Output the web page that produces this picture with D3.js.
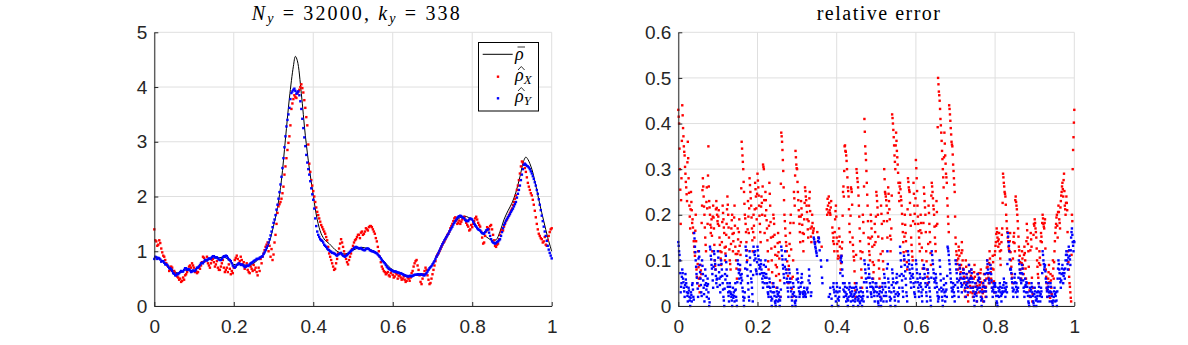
<!DOCTYPE html>
<html>
<head>
<meta charset="utf-8">
<script src="https://cdn.jsdelivr.net/npm/d3@7/dist/d3.min.js"></script>
<style>
body { margin: 0; background: #fff; }
svg { display: block; }
.tick text { font-family: "Liberation Sans", Arial, sans-serif; font-size: 19px; fill: #262626; }
.serif { font-family: "Liberation Serif", "DejaVu Serif", "Times New Roman", Tinos, "Nimbus Roman", "Noto Serif", FreeSerif, Times, serif; fill: #000; }
</style>
</head>
<body>
<svg width="1188" height="345"></svg>
<script>
'use strict';

var xTicks = [0, 0.2, 0.4, 0.6, 0.8, 1];
var rhoTicks = [0, 1, 2, 3, 4, 5];
var errTicks = [0, 0.1, 0.2, 0.3, 0.4, 0.5, 0.6];

// exact density (black line)
var barX = [0,0.02,0.04,0.06,0.08,0.10,0.12,0.14,0.16,0.18,0.20,0.22,0.24,0.26,0.28,0.29,
	0.30,0.31,0.32,0.33,0.34,0.35,0.355,0.36,0.37,0.38,0.39,0.40,0.41,0.42,0.43,0.44,0.46,
	0.48,0.50,0.52,0.54,0.56,0.58,0.60,0.62,0.64,0.66,0.68,0.70,0.72,0.74,0.76,0.78,0.80,
	0.82,0.84,0.85,0.86,0.87,0.88,0.89,0.90,0.91,0.92,0.93,0.935,0.94,0.95,0.96,0.97,0.98,0.99,1.0];
var barRho = [0.90,0.83,0.70,0.60,0.66,0.65,0.78,0.86,0.88,0.88,0.76,0.76,0.74,0.84,1.00,1.18,
	1.46,1.80,2.30,3.05,3.80,4.38,4.56,4.48,3.88,3.12,2.52,2.02,1.58,1.32,1.20,1.14,1.00,
	0.95,1.02,1.07,1.04,0.97,0.80,0.66,0.60,0.55,0.56,0.58,0.76,1.05,1.32,1.56,1.64,1.57,
	1.36,1.24,1.20,1.21,1.36,1.58,1.74,1.88,2.08,2.36,2.66,2.72,2.68,2.50,2.20,1.86,1.55,1.25,1.00];

// estimates, grid x = i*0.005 and offset grid x = 0.0025 + i*0.005
var hatStep = 0.005;
var hatX = [
	1.40,1.18,1.12,1.15,0.98,0.90,0.78,0.72,0.66,0.70,
	0.64,0.58,0.52,0.50,0.46,0.48,0.58,0.66,0.74,0.78,
	0.70,0.64,0.62,0.68,0.80,0.88,0.84,0.78,0.70,0.84,
	0.80,0.76,0.70,0.66,0.78,0.70,0.66,0.62,0.68,0.64,
	0.70,0.88,0.86,0.82,0.84,0.80,0.72,0.66,0.60,0.68,
	0.75,0.70,0.56,0.64,0.78,0.96,1.08,1.16,1.10,1.04,
	0.94,1.30,1.70,1.86,1.96,2.18,2.55,2.85,3.10,3.60,
	3.78,3.82,3.88,3.95,4.05,3.90,3.62,3.30,2.60,2.30,
	2.10,1.90,1.72,1.60,1.48,1.40,1.32,1.20,0.96,0.84,
	0.72,0.68,0.86,1.05,1.22,1.08,0.94,0.80,0.84,0.96,
	1.10,1.20,1.26,1.30,1.34,1.30,1.36,1.40,1.44,1.46,
	1.40,1.32,1.18,1.00,0.80,0.68,0.62,0.60,0.56,0.60,
	0.57,0.54,0.58,0.55,0.52,0.50,0.48,0.46,0.50,0.52,
	0.64,0.78,0.84,0.66,0.44,0.50,0.64,0.66,0.48,0.42,
	0.58,0.74,0.90,0.96,1.04,1.12,1.18,1.26,1.32,1.42,
	1.50,1.60,1.56,1.52,1.50,1.58,1.63,1.52,1.45,1.40,
	1.44,1.55,1.63,1.52,1.45,1.25,1.16,1.36,1.42,1.46,
	1.40,1.20,1.08,1.14,1.30,1.40,1.45,1.55,1.62,1.70,
	1.78,1.90,2.02,2.20,2.42,2.64,2.58,2.45,2.25,2.12,
	2.02,1.85,1.62,1.40,1.28,1.22,1.18,1.12,1.20,1.35,
	1.42];
var hatX2 = [
	1.20,1.10,1.20,1.05,0.92,0.84,0.74,0.64,0.72,0.62,
	0.60,0.54,0.48,0.44,0.52,0.56,0.62,0.72,0.70,0.74,
	0.62,0.60,0.72,0.74,0.90,0.82,0.90,0.74,0.78,0.86,
	0.72,0.82,0.66,0.72,0.84,0.62,0.70,0.76,0.58,0.60,
	0.84,0.92,0.78,0.90,0.76,0.68,0.78,0.62,0.72,0.64,
	0.66,0.62,0.70,0.86,0.90,1.02,1.12,1.00,0.90,0.84,
	1.16,1.50,1.82,1.90,2.06,2.40,2.70,2.98,3.30,3.70,
	3.85,3.80,3.92,4.00,3.98,3.76,3.45,2.95,2.45,2.20,
	2.00,1.80,1.66,1.54,1.44,1.36,1.26,1.08,0.90,0.78,
	0.66,0.78,0.96,1.14,1.16,1.00,0.86,0.76,0.90,1.04,
	1.16,1.22,1.30,1.24,1.36,1.32,1.42,1.38,1.46,1.44,
	1.36,1.24,1.08,0.90,0.72,0.64,0.58,0.62,0.54,0.64,
	0.52,0.60,0.50,0.56,0.48,0.54,0.44,0.52,0.46,0.60,
	0.72,0.82,0.74,0.56,0.40,0.58,0.70,0.56,0.40,0.50,
	0.66,0.82,0.94,1.00,1.08,1.16,1.22,1.30,1.36,1.46,
	1.55,1.62,1.50,1.56,1.54,1.62,1.58,1.48,1.38,1.48,
	1.50,1.60,1.58,1.48,1.36,1.14,1.28,1.44,1.40,1.48,
	1.30,1.10,1.12,1.22,1.36,1.38,1.50,1.58,1.66,1.74,
	1.84,1.96,2.12,2.30,2.55,2.62,2.52,2.35,2.18,2.06,
	1.94,1.74,1.50,1.32,1.24,1.16,1.26,1.10,1.28,1.40];
var hatY = [
	0.86,0.89,0.88,0.85,0.82,0.79,0.76,0.72,0.69,0.64,
	0.59,0.56,0.58,0.62,0.63,0.66,0.69,0.67,0.65,0.63,
	0.64,0.67,0.70,0.75,0.79,0.81,0.84,0.85,0.86,0.89,
	0.91,0.89,0.87,0.84,0.86,0.91,0.92,0.88,0.84,0.78,
	0.72,0.72,0.76,0.77,0.76,0.73,0.72,0.73,0.76,0.79,
	0.82,0.84,0.86,0.88,0.90,0.95,1.02,1.10,1.22,1.36,
	1.52,1.66,1.85,2.08,2.36,2.70,3.10,3.40,3.62,3.89,
	3.95,3.93,3.90,3.85,3.60,3.25,2.92,2.62,2.40,2.15,
	1.94,1.60,1.36,1.26,1.20,1.16,1.10,1.05,1.02,0.99,
	0.97,0.95,0.92,0.95,0.97,0.92,0.90,0.93,0.97,1.01,
	1.04,1.07,1.07,1.05,1.06,1.03,1.02,1.05,1.04,1.01,
	1.00,0.98,0.96,0.92,0.87,0.82,0.78,0.72,0.68,0.66,
	0.64,0.63,0.62,0.61,0.60,0.58,0.56,0.55,0.54,0.55,
	0.55,0.57,0.57,0.58,0.58,0.57,0.56,0.60,0.66,0.71,
	0.76,0.82,0.90,0.97,1.05,1.13,1.20,1.26,1.32,1.39,
	1.45,1.52,1.58,1.63,1.65,1.62,1.60,1.55,1.55,1.60,
	1.58,1.50,1.45,1.40,1.38,1.33,1.32,1.38,1.40,1.28,
	1.18,1.15,1.15,1.18,1.22,1.35,1.48,1.56,1.62,1.68,
	1.75,1.82,1.90,2.05,2.20,2.40,2.58,2.58,2.55,2.50,
	2.42,2.32,2.20,2.05,1.85,1.65,1.45,1.28,1.10,0.97,
	0.87];
var hatY2 = [
	0.90,0.86,0.87,0.81,0.82,0.76,0.75,0.69,0.67,0.60,
	0.56,0.59,0.60,0.64,0.63,0.69,0.66,0.67,0.62,0.65,
	0.64,0.70,0.72,0.78,0.78,0.84,0.83,0.87,0.87,0.91,
	0.89,0.89,0.85,0.84,0.89,0.90,0.91,0.85,0.82,0.74,
	0.70,0.75,0.78,0.75,0.75,0.71,0.74,0.74,0.78,0.80,
	0.83,0.86,0.86,0.89,0.91,0.98,1.06,1.16,1.29,1.44,
	1.58,1.76,1.96,2.22,2.52,2.90,3.28,3.50,3.78,3.92,
	3.97,3.88,3.92,3.74,3.42,3.08,2.76,2.50,2.28,2.04,
	1.78,1.46,1.30,1.22,1.19,1.12,1.08,1.03,1.00,0.97,
	0.96,0.93,0.94,0.96,0.94,0.91,0.92,0.95,0.99,1.02,
	1.06,1.08,1.06,1.05,1.04,1.02,1.04,1.05,1.02,1.00,
	0.99,0.97,0.94,0.90,0.84,0.80,0.75,0.70,0.67,0.65,
	0.63,0.63,0.61,0.60,0.59,0.57,0.55,0.54,0.55,0.54,
	0.56,0.57,0.58,0.57,0.58,0.56,0.58,0.63,0.69,0.73,
	0.79,0.86,0.93,1.01,1.09,1.16,1.23,1.29,1.36,1.42,
	1.49,1.55,1.61,1.64,1.64,1.61,1.57,1.56,1.58,1.59,
	1.54,1.47,1.42,1.39,1.35,1.33,1.35,1.39,1.34,1.22,
	1.16,1.14,1.17,1.20,1.28,1.42,1.52,1.59,1.65,1.72,
	1.78,1.86,1.98,2.12,2.30,2.50,2.60,2.56,2.53,2.46,
	2.37,2.26,2.12,1.95,1.75,1.55,1.36,1.19,1.03,0.92];

// relative errors, grid x = i*0.002 and offset grid x = 0.001 + i*0.002 (null = no point)
var errStep = 0.002;
var errX = [
	.43,.40,.30,.18,.28,.44,.39,.35,.33,.29,
	.26,.23,.36,.28,.22,.17,.25,.21,.19,.16,
	.13,.11,.20,.08,.05,.12,.06,.03,.09,.07,
	.22,.28,.24,.20,.15,.12,.26,.18,.35,.23,
	.20,.16,.19,.12,.22,.17,.10,.08,.23,.20,
	.18,.21,.15,.12,.09,.14,.22,.19,.16,.10,
	.13,.18,.24,.20,.15,.10,.08,.17,.20,.12,
	.16,.22,.13,.10,.06,.17,.12,.19,.08,.14,
	.36,.33,.30,.25,.20,.18,.14,.10,.23,.16,
	.28,.25,.22,.17,.12,.20,.15,.27,.24,.19,
	.29,.26,.22,.18,.14,.24,.20,.31,.30,.16,
	.25,.21,.17,.12,.08,.27,.22,.15,.10,.05,
	.20,.18,.13,.09,.04,.11,.16,.07,.14,.02,
	.38,.36,.32,.26,.20,.17,.14,.12,.08,.05,
	.11,.16,.20,.06,.02,.10,.25,.22,.34,.31,
	.30,.25,.21,.18,.14,.23,.20,.16,.12,.19,
	.26,.24,.22,.19,.15,.22,.25,.17,.14,.20,
	.16,.17,null,.14,null,null,null,.15,null,null,
	null,.13,null,null,null,null,null,null,.20,.22,
	.24,.21,.20,.23,null,.16,.15,.12,.19,.22,
	.15,.12,.11,.17,.13,.08,.11,.14,.25,.24,
	.35,.34,.33,.30,.26,.24,.18,.14,.26,.25,
	.15,.12,.10,.05,.02,.30,.28,.26,.22,.17,
	.12,.08,.04,.20,.16,.41,.35,.32,.27,.22,
	.15,.12,.10,.20,.17,.13,.06,.09,.18,.14,
	.25,.23,.20,.10,.06,.02,.22,.18,.12,.08,
	.30,.25,.24,.22,.15,.26,.23,.19,.12,.17,
	.42,.40,.37,.33,.30,.38,.34,.31,.27,.23,
	.27,.24,.22,.18,.14,.10,.20,.16,.12,.08,
	.28,.26,.25,.20,.15,.12,.10,.27,.22,.18,
	.32,.28,.22,.18,.15,.12,.20,.16,.10,.06,
	.26,.23,.20,.12,.08,.05,.22,.18,.14,.09,
	.27,.25,.22,.20,.15,.12,.23,.18,.50,.47,
	.45,.41,.38,.34,.30,.26,.38,.33,.29,.27,
	.22,.18,.44,.42,.39,.36,.35,.31,.28,.25,
	.15,.12,.10,.08,.13,.11,.06,.09,.14,.10,
	.08,.05,.02,.10,.07,.04,.01,.09,.06,.03,
	.08,.04,.02,.06,.09,.03,.05,.01,.07,.04,
	.03,.06,.08,.02,.05,.01,.07,.04,.02,.06,
	.10,.07,.05,.12,.09,.06,.04,.11,.08,.03,
	.12,.14,.17,.15,.13,.16,.12,.09,.14,.17,
	.29,.27,.25,.24,.20,.17,.15,.13,.12,.16,
	.10,.07,.05,.14,.16,.12,.24,.22,.20,.17,
	.13,.11,.08,.06,.12,.09,.07,.13,.10,.06,
	.18,.15,.12,.05,.02,.16,.13,.01,.04,.18,
	.19,.17,.15,.10,.07,.05,.12,.09,.16,.14,
	.20,.18,.17,.19,.08,.05,.02,.06,.09,.03,
	.07,.04,.01,.10,.06,.12,.16,.18,.20,.15,
	.22,.19,.17,.23,.25,.27,.24,.29,.22,.20,
	.24,.21,.12,.08,.05,.03,.01,.20,.30,.37,
	.43];
var errX2 = [
	.415,.345,.255,.232,.362,.418,.372,.338,.305,.272,
	.245,.315,.324,.248,.196,.212,.228,.182,.172,.142,
	.118,.165,.142,.064,.092,.085,.044,.062,.078,.182,
	.254,.262,.218,.172,.134,.228,.214,.286,.262,.216,
	.178,.172,.154,.196,.194,.134,.088,.212,.215,.186,
	.196,.176,.134,.104,.118,.184,.204,.172,.128,.115,
	.156,.212,.222,.172,.124,.092,.136,.188,.158,.142,
	.194,.176,.114,.082,.114,.146,.162,.132,.112,.258,
	.345,.316,.272,.224,.192,.162,.122,.168,.196,.214,
	.265,.236,.194,.144,.162,.176,.212,.256,.214,.246,
	.275,.242,.198,.162,.218,.226,.262,.305,.232,.198,
	.232,.188,.144,.098,.176,.246,.184,.126,.074,.152,
	.192,.156,.112,.066,.085,.138,.118,.104,.056,.268,
	.372,.342,.296,.232,.186,.154,.132,.098,.066,.088,
	.136,.182,.124,.038,.064,.182,.236,.286,.326,.302,
	.272,.232,.196,.162,.196,.214,.178,.142,.158,.226,
	.252,.232,.206,.168,.186,.236,.208,.152,.174,.182,
	.165,null,null,null,null,.162,null,null,null,null,
	null,null,null,null,null,null,null,.212,.235,.205,
	.226,.204,.216,null,.172,.142,.136,.162,.208,.196,
	.136,.104,.142,.152,.106,.094,.126,.198,.262,.296,
	.352,.338,.318,.282,.252,.212,.162,.198,.256,.222,
	.134,.108,.076,.034,.112,.292,.272,.242,.196,.142,
	.104,.062,.118,.184,.262,.382,.334,.296,.244,.186,
	.136,.112,.148,.186,.152,.096,.074,.134,.162,.196,
	.242,.216,.152,.082,.042,.114,.202,.148,.098,.186,
	.278,.246,.232,.186,.204,.246,.212,.154,.146,.242,
	.412,.386,.352,.316,.352,.362,.326,.292,.248,.262,
	.256,.232,.202,.162,.118,.152,.178,.142,.096,.212,
	.272,.254,.226,.176,.134,.108,.186,.246,.202,.236,
	.302,.252,.196,.164,.136,.166,.182,.128,.082,.182,
	.246,.216,.162,.098,.064,.136,.204,.162,.116,.242,
	.262,.236,.212,.174,.136,.176,.206,.392,.486,.462,
	.432,.396,.362,.322,.282,.326,.356,.312,.282,.236,
	.196,.162,.432,.406,.376,.354,.332,.296,.266,.196,
	.136,.112,.092,.104,.122,.084,.074,.116,.122,.082,
	.064,.034,.062,.086,.052,.024,.052,.074,.044,.066,
	.062,.028,.042,.074,.064,.042,.028,.044,.056,.072,
	.046,.072,.052,.036,.028,.044,.056,.032,.042,.084,
	.086,.062,.094,.104,.074,.052,.082,.096,.054,.112,
	.132,.158,.162,.142,.146,.136,.104,.122,.156,.226,
	.282,.262,.246,.222,.186,.162,.142,.124,.142,.118,
	.086,.062,.104,.152,.138,.232,.228,.212,.186,.152,
	.122,.096,.072,.094,.104,.082,.112,.116,.082,.142,
	.166,.136,.086,.034,.122,.146,.062,.026,.156,.176,
	.182,.162,.126,.086,.062,.094,.106,.142,.152,.182,
	.192,.174,.182,.126,.064,.036,.042,.074,.052,.018,
	.056,.026,.066,.082,.096,.142,.172,.194,.176,.206,
	.206,.182,.216,.242,.262,.256,.276,.252,.212,.226,
	.226,.162,.096,.064,.042,.018,.112,.186,.342,.402];
var errY = [
	.14,.12,.10,.03,.05,.08,.06,.04,.02,.07,
	.05,.03,.01,.04,.02,.00,.03,.01,.05,.02,
	.16,.13,.10,.07,.05,.02,.12,.09,.06,.03,
	.10,.07,.04,.01,.08,.05,.02,.06,.03,.00,
	.13,.11,.09,.07,.04,.12,.10,.08,.05,.06,
	.12,.09,.06,.03,.10,.08,.05,.02,.00,.07,
	.11,.08,.05,.03,.01,.05,.03,.02,.00,.04,
	.03,.01,.05,.02,.00,.10,.08,.06,.09,.05,
	.07,.04,.02,.00,.03,.13,.11,.08,.05,.02,
	.12,.09,.06,.04,.01,.13,.10,.12,.08,.07,
	.13,.11,.09,.07,.10,.08,.06,.04,.09,.05,
	.10,.07,.05,.03,.02,.06,.04,.02,.00,.03,
	.05,.03,.01,.00,.02,.04,.01,.03,.00,.02,
	.13,.11,.09,.07,.05,.12,.08,.06,.04,.02,
	.08,.06,.04,.02,.00,.05,.03,.01,.00,.02,
	.08,.06,.04,.02,.03,.05,.07,.03,.02,.04,
	.03,.02,null,.04,.03,.08,.05,null,.03,null,
	null,.15,.14,.13,.12,.11,null,.15,.14,null,
	.10,null,.05,null,null,null,null,null,.10,null,
	.02,null,.04,null,.00,null,.05,.03,null,.01,
	.05,.03,.00,.02,.04,.10,.11,.08,.05,.02,
	.05,.03,.01,.04,.00,.02,.05,.03,.01,.04,
	.02,.00,.04,.01,.03,.05,.02,.00,.03,.01,
	.04,.02,.00,.03,.01,.10,.08,.06,.04,.02,
	.09,.07,.05,.03,.02,.06,.04,.03,.01,.05,
	.05,.03,.01,.00,.04,.02,.00,.03,.05,.01,
	.07,.05,.03,.01,.12,.06,.04,.02,.00,.03,
	.08,.06,.04,.02,.00,.05,.07,.03,.01,.04,
	.13,.10,.07,.04,.02,.11,.09,.06,.03,.01,
	.12,.10,.08,.06,.04,.09,.07,.05,.03,.02,
	.10,.08,.06,.04,.02,.07,.05,.03,.01,.06,
	.09,.07,.05,.03,.01,.08,.06,.04,.02,.00,
	.12,.10,.08,.06,.04,.07,.05,.03,.01,.02,
	.10,.07,.04,.02,.00,.06,.03,.01,.05,.02,
	.13,.12,.10,.08,.06,.04,.02,.05,.03,.01,
	.10,.08,.06,.04,.02,.09,.07,.05,.03,.06,
	.08,.06,.04,.02,.07,.05,.03,.09,.06,.04,
	.08,.06,.04,.02,.00,.05,.03,.01,.07,.04,
	.06,.04,.02,.00,.03,.05,.01,.07,.04,.02,
	.10,.08,.06,.05,.09,.07,.04,.02,.05,.03,
	.05,.03,.01,.00,.04,.02,.05,.03,.01,.04,
	.03,.06,.04,.02,.05,.03,.16,.14,.12,.08,
	.08,.06,.04,.02,.05,.07,.03,.05,.02,.04,
	.10,.08,.06,.05,.09,.07,.04,.02,.06,.03,
	.05,.03,.01,.00,.04,.02,.05,.03,.01,.00,
	.04,.02,.00,.03,.01,.05,.03,.01,.04,.02,
	.12,.10,.08,.09,.06,.04,.02,.05,.03,.01,
	.05,.03,.01,.00,.02,.04,.01,.03,.00,.06,
	.10,.08,.06,.04,.07,.09,.05,.08,.06,.10,
	.12,.10,.08,.13,.11,.09,.15,.17,.14,.12,
	.14];
var errY2 = [
	.132,.112,.072,.042,.064,.072,.052,.032,.046,.058,
	.042,.022,.028,.034,.012,.018,.024,.046,.036,.014,
	.148,.118,.086,.062,.038,.104,.108,.074,.046,.022,
	.088,.056,.026,.046,.066,.036,.044,.048,.016,.008,
	.124,.102,.082,.056,.086,.114,.092,.066,.058,.042,
	.106,.074,.046,.064,.092,.066,.036,.012,.038,.058,
	.096,.066,.042,.022,.032,.042,.026,.012,.024,.018,
	.022,.034,.036,.012,.052,.092,.072,.078,.068,.062,
	.056,.032,.012,.018,.082,.122,.096,.066,.036,.012,
	.106,.076,.052,.026,.068,.118,.112,.104,.076,.096,
	.122,.102,.082,.086,.092,.072,.052,.066,.072,.062,
	.086,.062,.042,.026,.042,.052,.032,.012,.016,.042,
	.042,.022,.006,.012,.032,.026,.022,.014,.012,.036,
	.122,.102,.082,.062,.086,.102,.072,.052,.032,.052,
	.072,.052,.032,.012,.026,.042,.022,.006,.012,.058,
	.072,.052,.032,.026,.042,.062,.052,.026,.032,.022,
	.026,null,.036,null,.056,.066,null,.022,null,null,
	null,.146,.136,.126,.116,null,.142,.148,.122,null,
	.086,.062,null,null,null,null,null,null,null,null,
	null,.026,null,.016,null,.042,.036,null,.022,.032,
	.042,.016,.012,.032,.072,.106,.096,.066,.036,.032,
	.042,.022,.026,.016,.012,.036,.042,.022,.026,.032,
	.012,.022,.026,.016,.042,.036,.012,.016,.022,.006,
	.032,.012,.016,.022,.052,.092,.072,.052,.032,.062,
	.082,.062,.042,.026,.042,.052,.036,.022,.032,.042,
	.042,.022,.006,.026,.032,.012,.016,.042,.036,.022,
	.062,.042,.022,.082,.092,.052,.032,.012,.016,.046,
	.072,.052,.032,.012,.026,.062,.052,.022,.026,.066,
	.116,.086,.056,.032,.066,.102,.076,.046,.022,.086,
	.112,.092,.072,.052,.066,.082,.062,.042,.026,.052,
	.092,.072,.052,.032,.046,.062,.042,.022,.036,.082,
	.082,.062,.042,.022,.046,.072,.052,.032,.012,.062,
	.112,.092,.072,.052,.056,.062,.042,.022,.016,.036,
	.086,.056,.032,.012,.036,.046,.022,.032,.036,.066,
	.126,.112,.092,.072,.052,.032,.036,.042,.022,.046,
	.092,.072,.052,.032,.056,.082,.062,.042,.046,.072,
	.072,.052,.032,.046,.062,.042,.056,.076,.052,.062,
	.072,.052,.032,.012,.026,.042,.022,.036,.056,.062,
	.052,.032,.012,.016,.042,.032,.042,.056,.032,.072,
	.092,.072,.056,.072,.082,.056,.032,.036,.042,.046,
	.042,.022,.006,.022,.032,.036,.042,.022,.026,.032,
	.046,.052,.032,.036,.042,.092,.152,.132,.102,.082,
	.072,.052,.032,.036,.062,.052,.042,.036,.032,.062,
	.092,.072,.056,.072,.082,.056,.032,.042,.046,.052,
	.042,.022,.006,.022,.032,.036,.042,.022,.006,.026,
	.032,.012,.016,.022,.032,.042,.022,.026,.032,.072,
	.112,.092,.086,.076,.052,.032,.036,.042,.022,.032,
	.042,.022,.006,.012,.032,.026,.022,.012,.032,.082,
	.092,.072,.052,.056,.082,.072,.066,.072,.082,.112,
	.112,.092,.106,.122,.102,.122,.162,.156,.132,.142];

var svg = d3.select('svg');
var plotTop = 32.3, plotBottom = 306;
var axisColor = '#262626', gridColor = '#dfdfdf';
var dot = 2.4;

function panel(x0, x1, yDomain, yTicks){
	var x = d3.scaleLinear().domain([0,1]).range([x0,x1]);
	var y = d3.scaleLinear().domain(yDomain).range([plotBottom,plotTop]);
	var g = svg.append('g');

	g.selectAll('.gx').data(xTicks).enter().append('line')
		.attr('x1', function(d){ return x(d); }).attr('x2', function(d){ return x(d); })
		.attr('y1', plotTop).attr('y2', plotBottom)
		.attr('stroke', gridColor).attr('stroke-width', 1);
	g.selectAll('.gy').data(yTicks).enter().append('line')
		.attr('x1', x0).attr('x2', x1)
		.attr('y1', function(d){ return y(d); }).attr('y2', function(d){ return y(d); })
		.attr('stroke', gridColor).attr('stroke-width', 1);

	var plot = svg.append('g');

	var ax = svg.append('g').attr('transform', 'translate(0,' + plotBottom + ')')
		.call(d3.axisBottom(x).tickValues(xTicks).tickSizeInner(-4).tickSizeOuter(0)
			.tickPadding(14).tickFormat(function(d){ return String(d); }));
	var ay = svg.append('g').attr('transform', 'translate(' + x0 + ',0)')
		.call(d3.axisLeft(y).tickValues(yTicks).tickSizeInner(-4).tickSizeOuter(0)
			.tickPadding(7).tickFormat(function(d){ return String(d); }));
	[ax, ay].forEach(function(a){
		a.select('.domain').attr('stroke', axisColor);
		a.selectAll('.tick line').attr('stroke', axisColor);
	});
	return {x: x, y: y, g: plot};
}

function dots(p, values, start, step, color){
	p.g.append('g').selectAll('rect')
		.data(values.map(function(v, i){ return [start + i*step, v]; })
			.filter(function(d){ return d[1] !== null; }))
		.enter().append('rect')
		.attr('x', function(d){ return p.x(d[0]) - dot/2; })
		.attr('y', function(d){ return p.y(d[1]) - dot/2; })
		.attr('width', dot).attr('height', dot)
		.attr('fill', color);
}

// left panel
var L = panel(154.3, 551.7, [0,5], rhoTicks);
L.g.append('path')
	.datum(d3.zip(barX, barRho))
	.attr('fill', 'none').attr('stroke', '#000').attr('stroke-width', 1)
	.attr('d', d3.line()
		.x(function(d){ return L.x(d[0]); })
		.y(function(d){ return L.y(d[1]); })
		.curve(d3.curveCatmullRom));
dots(L, hatX, 0, hatStep, '#ff0000');
dots(L, hatX2, hatStep/2, hatStep, '#ff0000');
dots(L, hatY, 0, hatStep, '#0000ff');
dots(L, hatY2, hatStep/2, hatStep, '#0000ff');

// right panel
var R = panel(678.3, 1074.3, [0,0.6], errTicks);
dots(R, errX, 0, errStep, '#ff0000');
dots(R, errX2, errStep/2, errStep, '#ff0000');
dots(R, errY, 0, errStep, '#0000ff');
dots(R, errY2, errStep/2, errStep, '#0000ff');

// titles
var t1 = svg.append('text').attr('class', 'serif').attr('x', 251.7).attr('y', 20)
	.attr('textLength', 208).attr('lengthAdjust', 'spacing')
	.style('font-size', '20px');
t1.append('tspan').style('font-style', 'italic').text('N');
t1.append('tspan').attr('dy', 2.5).style('font-style', 'italic').style('font-size', '14px').text('y');
t1.append('tspan').attr('dy', -2.5).text(' = 32000, ');
t1.append('tspan').style('font-style', 'italic').text('k');
t1.append('tspan').attr('dy', 2.5).style('font-style', 'italic').style('font-size', '14px').text('y');
t1.append('tspan').attr('dy', -2.5).text(' = 338');

svg.append('text').attr('class', 'serif').attr('x', 816.7).attr('y', 20)
	.attr('textLength', 123.3).attr('lengthAdjust', 'spacing')
	.style('font-size', '20px').text('relative error');

// legend
var leg = svg.append('g');
leg.append('rect').attr('x', 478.5).attr('y', 42.5).attr('width', 60).attr('height', 68.5)
	.attr('fill', '#fff').attr('stroke', '#000').attr('stroke-width', 1);
leg.append('line').attr('x1', 482.7).attr('x2', 512.7).attr('y1', 54.3).attr('y2', 54.3)
	.attr('stroke', '#000').attr('stroke-width', 1);
leg.append('rect').attr('x', 498 - dot/2).attr('y', 76.7 - dot/2).attr('width', dot).attr('height', dot).attr('fill', '#ff0000');
leg.append('rect').attr('x', 498 - dot/2).attr('y', 98.3 - dot/2).attr('width', dot).attr('height', dot).attr('fill', '#0000ff');

var legSubs = ['', 'X', 'Y'];
var legMarks = ['bar', 'hat', 'hat'];
var legBase = [60, 81, 102];
legSubs.forEach(function(s, i){
	var b = legBase[i];
	var t = leg.append('text').attr('class', 'serif').attr('x', 515).attr('y', b)
		.style('font-size', '18px').style('font-style', 'italic');
	t.append('tspan').text('\u03C1');
	if (s) t.append('tspan').attr('dy', 3).style('font-size', '13px').text(s);
	if (legMarks[i] === 'bar') {
		leg.append('line').attr('x1', 517.5).attr('x2', 525).attr('y1', b - 13).attr('y2', b - 13)
			.attr('stroke', '#000').attr('stroke-width', 0.8);
	} else {
		leg.append('polyline')
			.attr('points', [[518, b - 11], [521.3, b - 14.5], [524.6, b - 11]].join(' '))
			.attr('fill', 'none').attr('stroke', '#000').attr('stroke-width', 0.8);
	}
});
</script>
</body>
</html>
